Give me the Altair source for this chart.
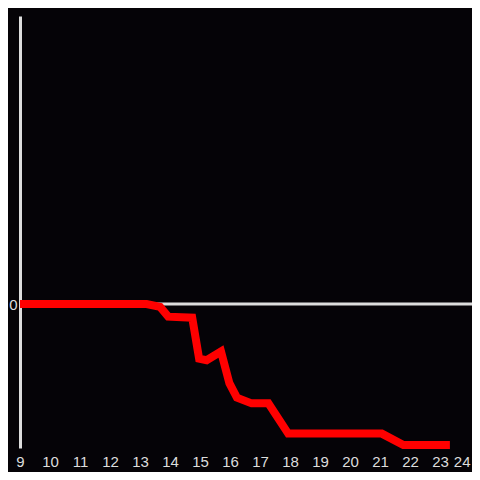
import altair as alt
import pandas as pd

hours = [9, 13.22, 13.67, 13.94, 14.74, 14.97, 15.22, 15.7, 15.98, 16.23, 16.72, 17.28, 17.94, 21.06, 21.78, 23.33]
values = [0, 0, -0.02, -0.088, -0.095, -0.38, -0.39, -0.33, -0.55, -0.65, -0.69, -0.69, -0.90, -0.90, -0.98, -0.98]
x_ticks = list(range(9, 25))
y_ticks = [0]

df = pd.DataFrame({"hour": hours, "value": values})

xscale = alt.Scale(domain=[9, 24.0667], nice=False, zero=False)
yscale = alt.Scale(domain=[-1, 2], nice=False, zero=False)

xaxis = alt.Axis(values=x_ticks, domain=False, ticks=False, grid=False,
                 labelColor="#dddddd", labelFontSize=15, labelPadding=6,
                 labelFont="Liberation Sans", title=None, labelFlush=False,
                 labelAlign=alt.ExprRef(expr="datum.value == 24 ? 'right' : 'center'"))
yaxis = alt.Axis(values=y_ticks, domain=True, domainColor="#dddddd", domainWidth=3,
                 ticks=False, grid=False, labelColor="#dddddd", labelFontSize=15,
                 labelPadding=3, labelFont="Liberation Sans", title=None)

zero = alt.Chart(pd.DataFrame({"z": [0]})).mark_rule(color="#dddddd", strokeWidth=3).encode(
    y=alt.Y("z:Q", scale=yscale, axis=yaxis))

line = alt.Chart(df).mark_line(color="#ff0000", strokeWidth=8, strokeJoin="miter", strokeCap="butt").encode(
    x=alt.X("hour:Q", scale=xscale, axis=xaxis),
    y=alt.Y("value:Q", scale=yscale, axis=yaxis))

chart = alt.layer(zero, line).properties(
    width=452, height=432,
    autosize=alt.AutoSizeParams(type="none"),
    padding={"left": 12, "top": 8, "right": 0, "bottom": 24},
    background="#050307",
).configure_view(stroke=None)

chart.save("out.html", embed_options={"renderer": "svg", "actions": False})
